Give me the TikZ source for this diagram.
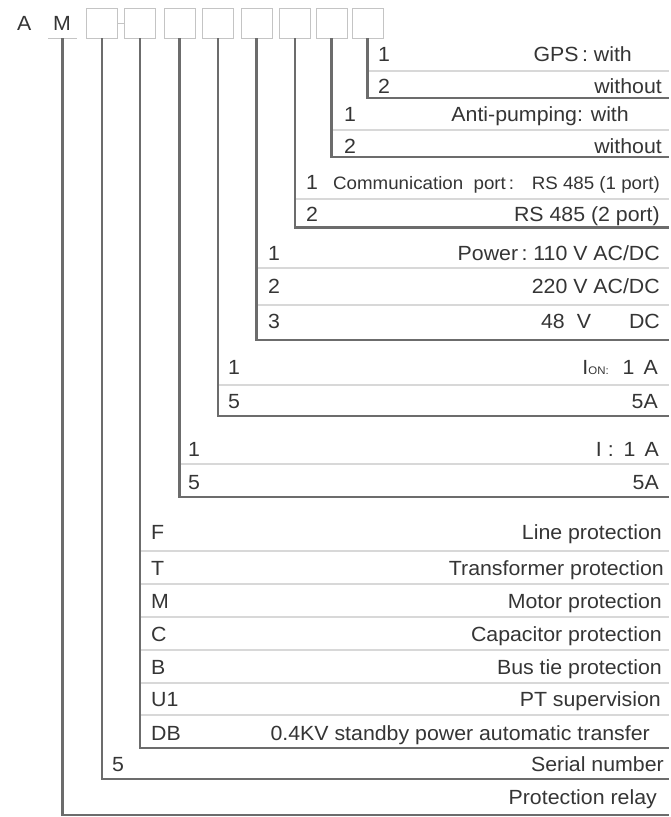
\documentclass[tikz,border=0pt]{standalone}
\usepackage{fontspec}
\setmainfont{Liberation Sans}[FakeStretch=1.04]
\definecolor{thk}{HTML}{6C6C6C}
\definecolor{thn}{HTML}{D8D8D8}
\definecolor{bx}{HTML}{C4C4C4}
\definecolor{txt}{HTML}{353535}
\begin{document}
\begin{tikzpicture}[x=1pt,y=-1pt,
  thickln/.style={draw=thk,line width=2.4pt},
  sepln/.style={draw=thn,line width=1.2pt},
  codebox/.style={draw=bx,line width=0.9pt,minimum width=31pt,minimum height=30pt,inner sep=0pt},
  num/.style={anchor=base west,inner sep=0pt,text=txt,font=\fontsize{20.5}{20.5}\selectfont},
  desc/.style={anchor=base east,inner sep=0pt,text=txt,font=\fontsize{20.5}{20.5}\selectfont},
  small/.style={anchor=base west,inner sep=0pt,text=txt,font=\fontsize{18}{18}\selectfont},
  smalldesc/.style={anchor=base east,inner sep=0pt,text=txt,font=\fontsize{18}{18}\selectfont}]
\useasboundingbox[fill=white] (0,0) rectangle (671,817);

% header
\node[num] (lA) at (17,30.5) {A};
\node[num] (lM) at (53,30.5) {M};
\coordinate (mu) at (62.5,38);
\draw[draw=bx,line width=0.9pt] (48,38) -- (77,38);
\node[codebox] (b1) at (102,23) {};
\node[codebox] (b2) at (140,23) {};
\node[codebox] (b3) at (179.5,23) {};
\node[codebox] (b4) at (218,23) {};
\node[codebox] (b5) at (256.5,23) {};
\node[codebox] (b6) at (295,23) {};
\node[codebox] (b7) at (331.5,23) {};
\node[codebox] (b8) at (367.5,23) {};
\draw[draw=bx,line width=0.9pt] (b1.east) -- (b2.west);

% end coordinates
\coordinate (e8) at (669,98);
\coordinate (e7) at (669,157);
\coordinate (e6) at (669,227.5);
\coordinate (e5) at (669,340);
\coordinate (e4) at (669,416);
\coordinate (e3) at (669,497);
\coordinate (e2) at (669,748);
\coordinate (e1) at (669,779);
\coordinate (e0) at (669,815);

% separators
\draw[sepln] (367.5,71) -- (669,71);
\draw[sepln] (331.5,130) -- (669,130);
\draw[sepln] (295,199) -- (669,199);
\draw[sepln] (256.5,268) -- (669,268);
\draw[sepln] (256.5,305) -- (669,305);
\draw[sepln] (218,385) -- (669,385);
\draw[sepln] (179.5,464) -- (669,464);
\foreach \yy in {551,584,617,650,683,715} \draw[sepln] (140,\yy) -- (669,\yy);

% brackets
\draw[thickln] (b8.south) |- (e8);
\draw[thickln] (b7.south) |- (e7);
\draw[thickln] (b6.south) |- (e6);
\draw[thickln] (b5.south) |- (e5);
\draw[thickln] (b4.south) |- (e4);
\draw[thickln] (b3.south) |- (e3);
\draw[thickln] (b2.south) |- (e2);
\draw[thickln] (b1.south) |- (e1);
\draw[thickln] (mu) |- (e0);

% GPS
\node[num] (g1) at (378,61.5) {1};
\node[desc] (g1t) at (632,61.5) {GPS\,:\ with};
\node[num] (g2) at (378,93.5) {2};
\node[desc] (g2t) at (662,93.5) {without};
% Anti-pumping
\node[num] (a1) at (344,121.5) {1};
\node[desc] (a1t) at (629,121.5) {Anti-pumping: with};
\node[num] (a2) at (344,153) {2};
\node[desc] (a2t) at (662,153) {without};
% Communication
\node[num] (c1) at (306,189.5) {1};
\node[small] (c1s) at (333,189.5) {Communication\ \ port\,:};
\node[smalldesc] (c1t) at (660,189.5) {RS 485 (1 port)};
\node[num] (c2) at (306,221) {2};
\node[desc] (c2t) at (660,221) {RS 485 (2 port)};
% Power
\node[num] (p1) at (268,260.5) {1};
\node[desc] (p1t) at (660,260.5) {Power\,:\ 110 V AC/DC};
\node[num] (p2) at (268,293.5) {2};
\node[desc] (p2t) at (660,293.5) {220 V AC/DC};
\node[num] (p3) at (268,328.5) {3};
\node[desc] (p3t) at (660,328.5) {48\hspace{12pt}V\hspace{38pt}DC};
% Ion
\node[num] (i1) at (228,374.5) {1};
\node[desc] (i1t) at (658,374.5) {I{\fontsize{11}{11}\selectfont ON:}\hspace{14pt}1\hspace{9pt}A};
\node[num] (i2) at (228,408.5) {5};
\node[desc] (i2t) at (658,408.5) {5A};
% I
\node[num] (j1) at (188,456.5) {1};
\node[desc] (j1t) at (659,456.5) {I\hspace{6pt}:\hspace{10pt}1\hspace{9pt}A};
\node[num] (j2) at (188,489.5) {5};
\node[desc] (j2t) at (659,489.5) {5A};
% Type
\node[num] (tF) at (151,539.5) {F};
\node[desc] (tFt) at (662,539.5) {Line protection};
\node[num] (tT) at (151,575) {T};
\node[desc] (tTt) at (664,575) {Transformer protection};
\node[num] (tM) at (151,608) {M};
\node[desc] (tMt) at (662,608) {Motor protection};
\node[num] (tC) at (151,641.5) {C};
\node[desc] (tCt) at (662,641.5) {Capacitor protection};
\node[num] (tB) at (151,674) {B};
\node[desc] (tBt) at (662,674) {Bus tie protection};
\node[num] (tU) at (151,706) {U1};
\node[desc] (tUt) at (661,706) {PT supervision};
\node[num] (tD) at (151,740) {DB};
\node[desc] (tDt) at (650,740) {0.4KV standby power automatic transfer};
% Serial
\node[num] (s1) at (112,771.5) {5};
\node[desc] (s1t) at (664,771.5) {Serial number};
% Relay
\node[desc] (r1t) at (657,804.5) {Protection relay};
\end{tikzpicture}
\end{document}
